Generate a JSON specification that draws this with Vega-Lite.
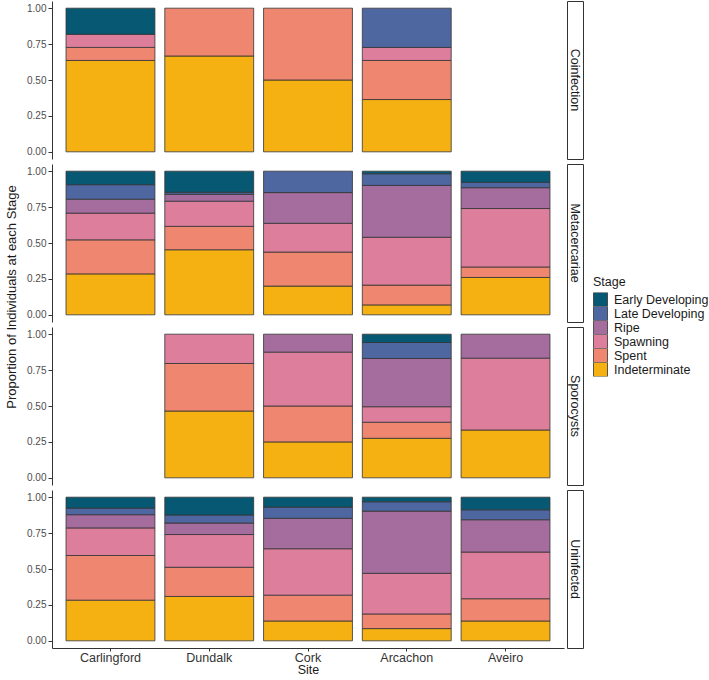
{
  "$schema": "https://vega.github.io/schema/vega-lite/v6.json",
  "padding": {"left": 5, "top": 0, "right": 0, "bottom": 0},
  "config": {
    "font": "Liberation Sans",
    "view": {"stroke": null},
    "axis": {"domainColor": "#333333", "tickColor": "#333333", "labelColor": "#4D4D4D", "grid": false, "titleFontWeight": "normal", "titleColor": "#1A1A1A"},
    "legend": {"orient": "none", "legendX": 588, "legendY": 275, "padding": 0, "titleFontSize": 12.5, "titleFontWeight": "normal", "titleColor": "#1A1A1A", "labelFontSize": 12.5, "labelColor": "#1A1A1A", "symbolType": "square", "symbolSize": 196, "symbolStrokeColor": "#333333", "symbolStrokeWidth": 0.8, "symbolOpacity": 1, "rowPadding": 0, "clipHeight": 14, "labelOffset": 6, "titlePadding": 4}
  },
  "datasets": {
    "stages": [
      {"Stage": "Indeterminate", "rank": 1},
      {"Stage": "Spent", "rank": 2},
      {"Stage": "Spawning", "rank": 3},
      {"Stage": "Ripe", "rank": 4},
      {"Stage": "Late Developing", "rank": 5},
      {"Stage": "Early Developing", "rank": 6}
    ],
    "d": [
      {"Infection": "Coinfection", "Site": "Carlingford", "Stage": "Indeterminate", "Proportion": 0.636},
      {"Infection": "Coinfection", "Site": "Carlingford", "Stage": "Spent", "Proportion": 0.091},
      {"Infection": "Coinfection", "Site": "Carlingford", "Stage": "Spawning", "Proportion": 0.091},
      {"Infection": "Coinfection", "Site": "Carlingford", "Stage": "Early Developing", "Proportion": 0.182},
      {"Infection": "Coinfection", "Site": "Dundalk", "Stage": "Indeterminate", "Proportion": 0.667},
      {"Infection": "Coinfection", "Site": "Dundalk", "Stage": "Spent", "Proportion": 0.333},
      {"Infection": "Coinfection", "Site": "Cork", "Stage": "Indeterminate", "Proportion": 0.5},
      {"Infection": "Coinfection", "Site": "Cork", "Stage": "Spent", "Proportion": 0.5},
      {"Infection": "Coinfection", "Site": "Arcachon", "Stage": "Indeterminate", "Proportion": 0.364},
      {"Infection": "Coinfection", "Site": "Arcachon", "Stage": "Spent", "Proportion": 0.272},
      {"Infection": "Coinfection", "Site": "Arcachon", "Stage": "Spawning", "Proportion": 0.091},
      {"Infection": "Coinfection", "Site": "Arcachon", "Stage": "Late Developing", "Proportion": 0.273},

      {"Infection": "Metacercariae", "Site": "Carlingford", "Stage": "Indeterminate", "Proportion": 0.285},
      {"Infection": "Metacercariae", "Site": "Carlingford", "Stage": "Spent", "Proportion": 0.237},
      {"Infection": "Metacercariae", "Site": "Carlingford", "Stage": "Spawning", "Proportion": 0.186},
      {"Infection": "Metacercariae", "Site": "Carlingford", "Stage": "Ripe", "Proportion": 0.097},
      {"Infection": "Metacercariae", "Site": "Carlingford", "Stage": "Late Developing", "Proportion": 0.101},
      {"Infection": "Metacercariae", "Site": "Carlingford", "Stage": "Early Developing", "Proportion": 0.094},
      {"Infection": "Metacercariae", "Site": "Dundalk", "Stage": "Indeterminate", "Proportion": 0.453},
      {"Infection": "Metacercariae", "Site": "Dundalk", "Stage": "Spent", "Proportion": 0.163},
      {"Infection": "Metacercariae", "Site": "Dundalk", "Stage": "Spawning", "Proportion": 0.175},
      {"Infection": "Metacercariae", "Site": "Dundalk", "Stage": "Ripe", "Proportion": 0.048},
      {"Infection": "Metacercariae", "Site": "Dundalk", "Stage": "Late Developing", "Proportion": 0.014},
      {"Infection": "Metacercariae", "Site": "Dundalk", "Stage": "Early Developing", "Proportion": 0.147},
      {"Infection": "Metacercariae", "Site": "Cork", "Stage": "Indeterminate", "Proportion": 0.2},
      {"Infection": "Metacercariae", "Site": "Cork", "Stage": "Spent", "Proportion": 0.237},
      {"Infection": "Metacercariae", "Site": "Cork", "Stage": "Spawning", "Proportion": 0.2},
      {"Infection": "Metacercariae", "Site": "Cork", "Stage": "Ripe", "Proportion": 0.214},
      {"Infection": "Metacercariae", "Site": "Cork", "Stage": "Late Developing", "Proportion": 0.149},
      {"Infection": "Metacercariae", "Site": "Arcachon", "Stage": "Indeterminate", "Proportion": 0.069},
      {"Infection": "Metacercariae", "Site": "Arcachon", "Stage": "Spent", "Proportion": 0.138},
      {"Infection": "Metacercariae", "Site": "Arcachon", "Stage": "Spawning", "Proportion": 0.333},
      {"Infection": "Metacercariae", "Site": "Arcachon", "Stage": "Ripe", "Proportion": 0.361},
      {"Infection": "Metacercariae", "Site": "Arcachon", "Stage": "Late Developing", "Proportion": 0.081},
      {"Infection": "Metacercariae", "Site": "Arcachon", "Stage": "Early Developing", "Proportion": 0.018},
      {"Infection": "Metacercariae", "Site": "Aveiro", "Stage": "Indeterminate", "Proportion": 0.26},
      {"Infection": "Metacercariae", "Site": "Aveiro", "Stage": "Spent", "Proportion": 0.073},
      {"Infection": "Metacercariae", "Site": "Aveiro", "Stage": "Spawning", "Proportion": 0.407},
      {"Infection": "Metacercariae", "Site": "Aveiro", "Stage": "Ripe", "Proportion": 0.145},
      {"Infection": "Metacercariae", "Site": "Aveiro", "Stage": "Late Developing", "Proportion": 0.037},
      {"Infection": "Metacercariae", "Site": "Aveiro", "Stage": "Early Developing", "Proportion": 0.078},

      {"Infection": "Sporocysts", "Site": "Dundalk", "Stage": "Indeterminate", "Proportion": 0.465},
      {"Infection": "Sporocysts", "Site": "Dundalk", "Stage": "Spent", "Proportion": 0.331},
      {"Infection": "Sporocysts", "Site": "Dundalk", "Stage": "Spawning", "Proportion": 0.204},
      {"Infection": "Sporocysts", "Site": "Cork", "Stage": "Indeterminate", "Proportion": 0.25},
      {"Infection": "Sporocysts", "Site": "Cork", "Stage": "Spent", "Proportion": 0.25},
      {"Infection": "Sporocysts", "Site": "Cork", "Stage": "Spawning", "Proportion": 0.375},
      {"Infection": "Sporocysts", "Site": "Cork", "Stage": "Ripe", "Proportion": 0.125},
      {"Infection": "Sporocysts", "Site": "Arcachon", "Stage": "Indeterminate", "Proportion": 0.275},
      {"Infection": "Sporocysts", "Site": "Arcachon", "Stage": "Spent", "Proportion": 0.112},
      {"Infection": "Sporocysts", "Site": "Arcachon", "Stage": "Spawning", "Proportion": 0.108},
      {"Infection": "Sporocysts", "Site": "Arcachon", "Stage": "Ripe", "Proportion": 0.336},
      {"Infection": "Sporocysts", "Site": "Arcachon", "Stage": "Late Developing", "Proportion": 0.111},
      {"Infection": "Sporocysts", "Site": "Arcachon", "Stage": "Early Developing", "Proportion": 0.058},
      {"Infection": "Sporocysts", "Site": "Aveiro", "Stage": "Indeterminate", "Proportion": 0.333},
      {"Infection": "Sporocysts", "Site": "Aveiro", "Stage": "Spawning", "Proportion": 0.5},
      {"Infection": "Sporocysts", "Site": "Aveiro", "Stage": "Ripe", "Proportion": 0.167},

      {"Infection": "Uninfected", "Site": "Carlingford", "Stage": "Indeterminate", "Proportion": 0.283},
      {"Infection": "Uninfected", "Site": "Carlingford", "Stage": "Spent", "Proportion": 0.311},
      {"Infection": "Uninfected", "Site": "Carlingford", "Stage": "Spawning", "Proportion": 0.192},
      {"Infection": "Uninfected", "Site": "Carlingford", "Stage": "Ripe", "Proportion": 0.092},
      {"Infection": "Uninfected", "Site": "Carlingford", "Stage": "Late Developing", "Proportion": 0.046},
      {"Infection": "Uninfected", "Site": "Carlingford", "Stage": "Early Developing", "Proportion": 0.076},
      {"Infection": "Uninfected", "Site": "Dundalk", "Stage": "Indeterminate", "Proportion": 0.309},
      {"Infection": "Uninfected", "Site": "Dundalk", "Stage": "Spent", "Proportion": 0.203},
      {"Infection": "Uninfected", "Site": "Dundalk", "Stage": "Spawning", "Proportion": 0.228},
      {"Infection": "Uninfected", "Site": "Dundalk", "Stage": "Ripe", "Proportion": 0.08},
      {"Infection": "Uninfected", "Site": "Dundalk", "Stage": "Late Developing", "Proportion": 0.056},
      {"Infection": "Uninfected", "Site": "Dundalk", "Stage": "Early Developing", "Proportion": 0.124},
      {"Infection": "Uninfected", "Site": "Cork", "Stage": "Indeterminate", "Proportion": 0.138},
      {"Infection": "Uninfected", "Site": "Cork", "Stage": "Spent", "Proportion": 0.18},
      {"Infection": "Uninfected", "Site": "Cork", "Stage": "Spawning", "Proportion": 0.323},
      {"Infection": "Uninfected", "Site": "Cork", "Stage": "Ripe", "Proportion": 0.212},
      {"Infection": "Uninfected", "Site": "Cork", "Stage": "Late Developing", "Proportion": 0.078},
      {"Infection": "Uninfected", "Site": "Cork", "Stage": "Early Developing", "Proportion": 0.069},
      {"Infection": "Uninfected", "Site": "Arcachon", "Stage": "Indeterminate", "Proportion": 0.085},
      {"Infection": "Uninfected", "Site": "Arcachon", "Stage": "Spent", "Proportion": 0.102},
      {"Infection": "Uninfected", "Site": "Arcachon", "Stage": "Spawning", "Proportion": 0.283},
      {"Infection": "Uninfected", "Site": "Arcachon", "Stage": "Ripe", "Proportion": 0.433},
      {"Infection": "Uninfected", "Site": "Arcachon", "Stage": "Late Developing", "Proportion": 0.065},
      {"Infection": "Uninfected", "Site": "Arcachon", "Stage": "Early Developing", "Proportion": 0.032},
      {"Infection": "Uninfected", "Site": "Aveiro", "Stage": "Indeterminate", "Proportion": 0.138},
      {"Infection": "Uninfected", "Site": "Aveiro", "Stage": "Spent", "Proportion": 0.155},
      {"Infection": "Uninfected", "Site": "Aveiro", "Stage": "Spawning", "Proportion": 0.325},
      {"Infection": "Uninfected", "Site": "Aveiro", "Stage": "Ripe", "Proportion": 0.225},
      {"Infection": "Uninfected", "Site": "Aveiro", "Stage": "Late Developing", "Proportion": 0.069},
      {"Infection": "Uninfected", "Site": "Aveiro", "Stage": "Early Developing", "Proportion": 0.088}
    ]
  },
  "hconcat": [
    {
      "width": 14, "height": 592,
      "data": {"values": [{"t": "Proportion of Individuals at each Stage"}]},
      "mark": {"type": "text", "angle": 270, "fontSize": 13, "color": "#1A1A1A"},
      "encoding": {"text": {"field": "t"}}
    },
    {
      "spacing": 3,
      "vconcat": [
        {
          "spacing": 2,
          "hconcat": [
            {
              "width": 512, "height": 158,
              "data": {"name": "d"},
              "transform": [{"filter": {"field": "Infection", "equal": "Coinfection"}}, {"lookup": "Stage", "from": {"data": {"name": "stages"}, "key": "Stage", "fields": ["rank"]}}],
              "mark": {"type": "bar", "stroke": "#333333", "strokeWidth": 0.8},
              "encoding": {
                "x": {"field": "Site", "type": "nominal", "scale": {"domain": ["Carlingford", "Dundalk", "Cork", "Arcachon", "Aveiro"], "paddingInner": 0.1, "paddingOuter": 0.142}, "axis": null},
                "y": {"field": "Proportion", "type": "quantitative", "stack": "zero", "scale": {"domain": [-0.05, 1.05], "nice": false, "zero": false}, "axis": {"title": null, "values": [0, 0.25, 0.5, 0.75, 1], "format": ".2f", "labelFontSize": 10, "tickSize": 4, "labelPadding": 2}},
                "order": {"field": "rank", "type": "quantitative"},
                "color": {"field": "Stage", "type": "nominal", "title": "Stage", "sort": ["Early Developing", "Late Developing", "Ripe", "Spawning", "Spent", "Indeterminate"], "scale": {"domain": ["Early Developing", "Late Developing", "Ripe", "Spawning", "Spent", "Indeterminate"], "range": ["#075873", "#4E67A0", "#A46D9E", "#DD7E9D", "#EE8670", "#F5B112"]}}
              }
            },
            {
              "width": 16, "height": 158,
              "view": {"stroke": "#333333", "strokeWidth": 1, "fill": "white"},
              "data": {"values": [{"label": "Coinfection"}]},
              "mark": {"type": "text", "angle": 90, "fontSize": 12.5, "color": "#1A1A1A"},
              "encoding": {"text": {"field": "label"}}
            }
          ]
        },
        {
          "spacing": 2,
          "hconcat": [
            {
              "width": 512, "height": 158,
              "data": {"name": "d"},
              "transform": [{"filter": {"field": "Infection", "equal": "Metacercariae"}}, {"lookup": "Stage", "from": {"data": {"name": "stages"}, "key": "Stage", "fields": ["rank"]}}],
              "mark": {"type": "bar", "stroke": "#333333", "strokeWidth": 0.8},
              "encoding": {
                "x": {"field": "Site", "type": "nominal", "scale": {"domain": ["Carlingford", "Dundalk", "Cork", "Arcachon", "Aveiro"], "paddingInner": 0.1, "paddingOuter": 0.142}, "axis": null},
                "y": {"field": "Proportion", "type": "quantitative", "stack": "zero", "scale": {"domain": [-0.05, 1.05], "nice": false, "zero": false}, "axis": {"title": null, "values": [0, 0.25, 0.5, 0.75, 1], "format": ".2f", "labelFontSize": 10, "tickSize": 4, "labelPadding": 2}},
                "order": {"field": "rank", "type": "quantitative"},
                "color": {"field": "Stage", "type": "nominal", "title": "Stage", "sort": ["Early Developing", "Late Developing", "Ripe", "Spawning", "Spent", "Indeterminate"], "scale": {"domain": ["Early Developing", "Late Developing", "Ripe", "Spawning", "Spent", "Indeterminate"], "range": ["#075873", "#4E67A0", "#A46D9E", "#DD7E9D", "#EE8670", "#F5B112"]}}
              }
            },
            {
              "width": 16, "height": 158,
              "view": {"stroke": "#333333", "strokeWidth": 1, "fill": "white"},
              "data": {"values": [{"label": "Metacercariae"}]},
              "mark": {"type": "text", "angle": 90, "fontSize": 12.5, "color": "#1A1A1A"},
              "encoding": {"text": {"field": "label"}}
            }
          ]
        },
        {
          "spacing": 2,
          "hconcat": [
            {
              "width": 512, "height": 158,
              "data": {"name": "d"},
              "transform": [{"filter": {"field": "Infection", "equal": "Sporocysts"}}, {"lookup": "Stage", "from": {"data": {"name": "stages"}, "key": "Stage", "fields": ["rank"]}}],
              "mark": {"type": "bar", "stroke": "#333333", "strokeWidth": 0.8},
              "encoding": {
                "x": {"field": "Site", "type": "nominal", "scale": {"domain": ["Carlingford", "Dundalk", "Cork", "Arcachon", "Aveiro"], "paddingInner": 0.1, "paddingOuter": 0.142}, "axis": null},
                "y": {"field": "Proportion", "type": "quantitative", "stack": "zero", "scale": {"domain": [-0.05, 1.05], "nice": false, "zero": false}, "axis": {"title": null, "values": [0, 0.25, 0.5, 0.75, 1], "format": ".2f", "labelFontSize": 10, "tickSize": 4, "labelPadding": 2}},
                "order": {"field": "rank", "type": "quantitative"},
                "color": {"field": "Stage", "type": "nominal", "title": "Stage", "sort": ["Early Developing", "Late Developing", "Ripe", "Spawning", "Spent", "Indeterminate"], "scale": {"domain": ["Early Developing", "Late Developing", "Ripe", "Spawning", "Spent", "Indeterminate"], "range": ["#075873", "#4E67A0", "#A46D9E", "#DD7E9D", "#EE8670", "#F5B112"]}}
              }
            },
            {
              "width": 16, "height": 158,
              "view": {"stroke": "#333333", "strokeWidth": 1, "fill": "white"},
              "data": {"values": [{"label": "Sporocysts"}]},
              "mark": {"type": "text", "angle": 90, "fontSize": 12.5, "color": "#1A1A1A"},
              "encoding": {"text": {"field": "label"}}
            }
          ]
        },
        {
          "spacing": 2,
          "hconcat": [
            {
              "width": 512, "height": 158,
              "data": {"name": "d"},
              "transform": [{"filter": {"field": "Infection", "equal": "Uninfected"}}, {"lookup": "Stage", "from": {"data": {"name": "stages"}, "key": "Stage", "fields": ["rank"]}}],
              "mark": {"type": "bar", "stroke": "#333333", "strokeWidth": 0.8},
              "encoding": {
                "x": {"field": "Site", "type": "nominal", "scale": {"domain": ["Carlingford", "Dundalk", "Cork", "Arcachon", "Aveiro"], "paddingInner": 0.1, "paddingOuter": 0.142}, "axis": {"title": "Site", "labelAngle": 0, "labelFontSize": 12.5, "labelColor": "#333333", "titleFontSize": 12.5, "tickSize": 3, "labelPadding": 0, "titlePadding": 0}},
                "y": {"field": "Proportion", "type": "quantitative", "stack": "zero", "scale": {"domain": [-0.05, 1.05], "nice": false, "zero": false}, "axis": {"title": null, "values": [0, 0.25, 0.5, 0.75, 1], "format": ".2f", "labelFontSize": 10, "tickSize": 4, "labelPadding": 2}},
                "order": {"field": "rank", "type": "quantitative"},
                "color": {"field": "Stage", "type": "nominal", "title": "Stage", "sort": ["Early Developing", "Late Developing", "Ripe", "Spawning", "Spent", "Indeterminate"], "scale": {"domain": ["Early Developing", "Late Developing", "Ripe", "Spawning", "Spent", "Indeterminate"], "range": ["#075873", "#4E67A0", "#A46D9E", "#DD7E9D", "#EE8670", "#F5B112"]}}
              }
            },
            {
              "width": 16, "height": 158,
              "view": {"stroke": "#333333", "strokeWidth": 1, "fill": "white"},
              "data": {"values": [{"label": "Uninfected"}]},
              "mark": {"type": "text", "angle": 90, "fontSize": 12.5, "color": "#1A1A1A"},
              "encoding": {"text": {"field": "label"}}
            }
          ]
        }
      ]
    }
  ],
  "spacing": 7
}
